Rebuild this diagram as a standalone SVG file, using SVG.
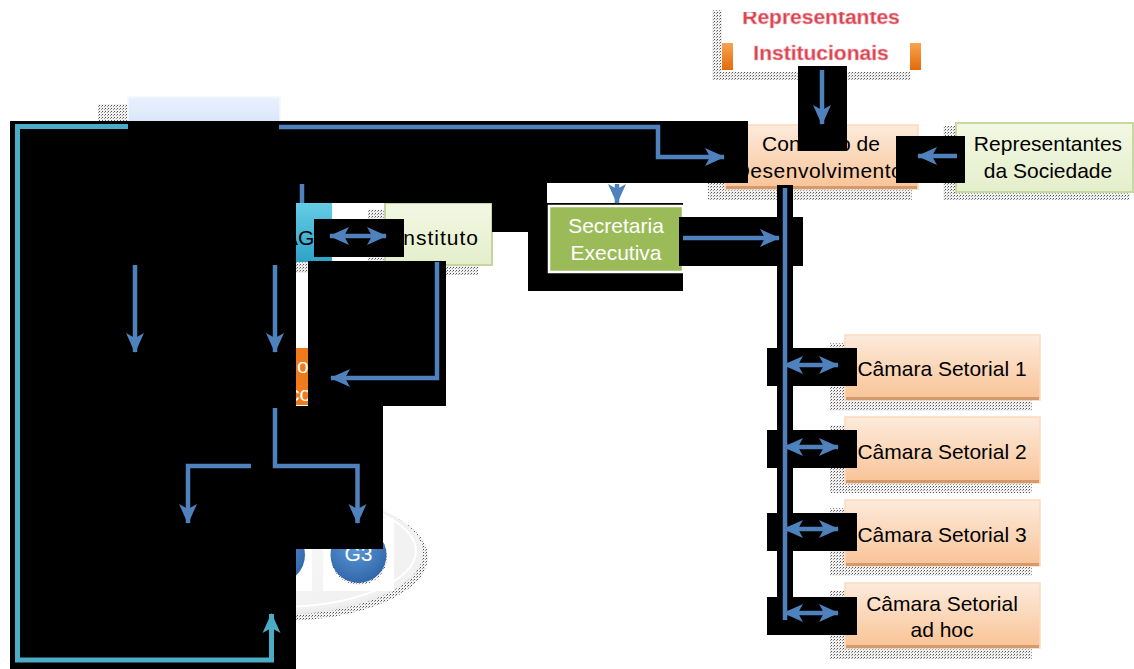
<svg xmlns="http://www.w3.org/2000/svg" width="1134" height="669" viewBox="0 0 1134 669">
<defs>
<style>
.blk{fill:#000}
.conn{fill:none;stroke:#4f81bd;stroke-width:4.5}
.cy{fill:none;stroke:#4bacc6;stroke-width:5}
.t{font-family:"Liberation Sans",Arial,sans-serif;font-size:21px;fill:#000}
.tc{text-anchor:middle}
.tw{fill:#fff}
.sh{fill:url(#dots)}
.peach{fill:url(#gPeach);stroke:#fcd9bd;stroke-width:1.5}
.pbot{fill:#d39a6e}
.green{fill:url(#gGreen);stroke:#c6d99f;stroke-width:2}
.red{font-weight:bold;fill:#d8424f;stroke:#f3a9b0;stroke-width:0.6}
</style>
<pattern id="dots" width="3" height="3" patternUnits="userSpaceOnUse">
<rect width="3" height="3" fill="#f0f0f0"/>
<rect width="1" height="1" fill="#555"/>
<rect x="2" y="1" width="1" height="1" fill="#999"/>
</pattern>
<linearGradient id="gPeach" x1="0" y1="0" x2="0" y2="1">
<stop offset="0" stop-color="#fdebdc"/>
<stop offset="1" stop-color="#f9c396"/>
</linearGradient>
<linearGradient id="gGreen" x1="0" y1="0" x2="0" y2="1">
<stop offset="0" stop-color="#f3f8e3"/>
<stop offset="1" stop-color="#e4eecb"/>
</linearGradient>
<linearGradient id="gCyan" x1="0" y1="0" x2="0" y2="1">
<stop offset="0" stop-color="#66cce6"/>
<stop offset="1" stop-color="#2ea3c6"/>
</linearGradient>
<linearGradient id="gLblue" x1="0" y1="0" x2="0" y2="1">
<stop offset="0" stop-color="#eaf1fd"/>
<stop offset="1" stop-color="#cfe0f8"/>
</linearGradient>
<linearGradient id="gOrange" x1="0" y1="0" x2="0" y2="1">
<stop offset="0" stop-color="#f9a350"/>
<stop offset="1" stop-color="#e26b0a"/>
</linearGradient>
<radialGradient id="gBall" cx="0.45" cy="0.35" r="0.7">
<stop offset="0" stop-color="#5e9ad6"/>
<stop offset="1" stop-color="#2d63a8"/>
</radialGradient>
<radialGradient id="gEll" cx="0.5" cy="0.45" r="0.6">
<stop offset="0" stop-color="#f8f8f8"/>
<stop offset="0.85" stop-color="#f1f1f1"/>
<stop offset="1" stop-color="#dedede"/>
</radialGradient>
<clipPath id="clipTop"><rect x="700" y="12" width="250" height="60"/></clipPath>
<marker id="ah" viewBox="0 0 20 20" refX="19" refY="10" markerWidth="20" markerHeight="20" markerUnits="userSpaceOnUse" orient="auto-start-reverse">
<path d="M0,1 L20,10 L0,19 L5,10 Z" fill="#4f81bd"/>
</marker>
<marker id="ahc" viewBox="0 0 20 20" refX="19" refY="10" markerWidth="20" markerHeight="20" markerUnits="userSpaceOnUse" orient="auto">
<path d="M0,1 L20,10 L0,19 L5,10 Z" fill="#4bacc6"/>
</marker>
</defs>

<rect width="1134" height="669" fill="#fff"/>

<!-- Representantes Institucionais -->
<g id="n-repinst">
<rect class="sh" x="712" y="10" width="198" height="70"/>
<rect x="722" y="4" width="199" height="68" fill="#fff"/>
<rect x="722" y="43" width="11" height="27" fill="url(#gOrange)"/>
<rect x="910" y="43" width="11" height="27" fill="url(#gOrange)"/>
<text class="t tc red" x="821" y="24" clip-path="url(#clipTop)">Representantes</text>
<text class="t tc red" x="821" y="60">Institucionais</text>
</g>

<!-- light blue box top-left -->
<g id="n-topleft">
<rect class="sh" x="98" y="104" width="160" height="30"/>
<rect x="128" y="97" width="152" height="40" fill="url(#gLblue)" stroke="#f4f8fe" stroke-width="1.5"/>
</g>

<!-- Conselho -->
<g id="n-conselho">
<rect class="sh" x="708" y="130" width="204" height="70"/>
<rect class="peach" x="725" y="125" width="193" height="64"/>
<rect class="pbot" x="726" y="186" width="191" height="3"/>
<text class="t tc" x="821" y="151">Conselho de</text>
<text class="t tc" x="819" y="178" style="letter-spacing:0.5px">Desenvolvimento</text>
</g>

<!-- Representantes da Sociedade -->
<g id="n-repsoc">
<rect class="sh" x="943" y="126" width="187" height="74"/>
<rect class="green" x="956" y="123" width="177" height="69"/>
<text class="t tc" x="1048" y="151">Representantes</text>
<text class="t tc" x="1048" y="178">da Sociedade</text>
</g>

<!-- Câmaras -->
<g id="n-cam1">
<rect class="sh" x="830" y="343" width="202" height="68"/>
<rect class="peach" x="845" y="335" width="195" height="65"/>
<rect class="pbot" x="846" y="397" width="193" height="3"/>
<text class="t tc" x="942" y="376">Câmara Setorial 1</text>
</g>
<g id="n-cam2">
<rect class="sh" x="830" y="425" width="202" height="68"/>
<rect class="peach" x="845" y="417" width="195" height="66"/>
<rect class="pbot" x="846" y="480" width="193" height="3"/>
<text class="t tc" x="942" y="459">Câmara Setorial 2</text>
</g>
<g id="n-cam3">
<rect class="sh" x="830" y="508" width="202" height="68"/>
<rect class="peach" x="845" y="500" width="195" height="66"/>
<rect class="pbot" x="846" y="563" width="193" height="3"/>
<text class="t tc" x="942" y="542">Câmara Setorial 3</text>
</g>
<g id="n-cam4">
<rect class="sh" x="830" y="591" width="202" height="68"/>
<rect class="peach" x="845" y="583" width="195" height="65"/>
<rect class="pbot" x="846" y="645" width="193" height="3"/>
<text class="t tc" x="942" y="611">Câmara Setorial</text>
<text class="t tc" x="942" y="637">ad hoc</text>
</g>

<!-- Secretaria -->
<rect class="blk" x="528" y="203" width="155" height="88"/>
<g id="n-secretaria">
<rect x="549" y="206" width="134" height="66" fill="#9bbb59" stroke="#fff" stroke-width="2.5"/>
<text class="t tc tw" x="616" y="233">Secretaria</text>
<text class="t tc tw" x="616" y="260">Executiva</text>
</g>

<!-- Instituto -->
<g id="n-instituto">
<rect class="sh" x="368" y="210" width="110" height="65"/>
<rect x="385" y="203" width="107" height="62" fill="url(#gGreen)" stroke="#c4d69c" stroke-width="2"/>
<text class="t" x="479" y="245" style="text-anchor:end;letter-spacing:1px">Instituto</text>
</g>

<!-- cyan G box -->
<g id="n-g">
<rect class="sh" x="280" y="215" width="45" height="58"/>
<rect x="240" y="203" width="92" height="59" fill="url(#gCyan)"/>
<text class="t" x="284" y="245">AG</text>
</g>

<!-- orange box -->
<g id="n-orange">
<rect x="230" y="348" width="100" height="57" fill="#f07b1d"/>
<text class="t tw" x="297" y="373">o</text>
<text class="t tw" x="289" y="401">co</text>
</g>

<!-- ellipse with groups -->
<g id="n-groups">
<ellipse cx="280" cy="557" rx="148" ry="64" class="sh"/>
<ellipse cx="277" cy="553" rx="146" ry="62" fill="url(#gEll)"/>
<ellipse cx="277" cy="551" rx="139" ry="56" fill="none" stroke="#fff" stroke-width="2"/>
<rect x="242" y="518" width="70" height="73" fill="#fff"/>
<rect x="323" y="518" width="71" height="73" fill="#fff"/>
<circle cx="277" cy="555" r="28" fill="url(#gBall)"/>
<circle cx="359" cy="557" r="28" class="sh"/>
<circle cx="358.5" cy="555" r="28" fill="url(#gBall)"/>
<text class="t tc tw" x="358.5" y="561">G3</text>
</g>

<!-- black overlays -->
<g id="black">
<rect class="blk" x="10" y="121" width="738" height="62"/>
<rect class="blk" x="10" y="183" width="537" height="20"/>
<rect class="blk" x="492" y="183" width="36" height="49"/>
<rect class="blk" x="10" y="121" width="286" height="548"/>
<rect class="blk" x="314" y="219" width="90" height="38"/>
<rect class="blk" x="308" y="261" width="138" height="145"/>
<rect class="blk" x="296" y="406" width="87" height="143"/>
<rect class="blk" x="679" y="217" width="124" height="49"/>
<rect class="blk" x="777" y="185" width="16" height="450"/>
<rect class="blk" x="767" y="348" width="90" height="38"/>
<rect class="blk" x="767" y="430" width="90" height="38"/>
<rect class="blk" x="767" y="513" width="90" height="38"/>
<rect class="blk" x="767" y="597" width="90" height="38"/>
<rect class="blk" x="798" y="66" width="49" height="85"/>
<rect class="blk" x="896" y="136" width="69" height="47"/>
</g>

<!-- connectors -->
<g id="connectors">
<path class="conn" d="M279,127 H658 V157 H724" marker-end="url(#ah)"/>
<path class="cy" d="M128,126.5 H17.5 V660 H271.5 V614" marker-end="url(#ahc)"/>
<path class="conn" d="M302,184 V203"/>
<path class="conn" d="M617,184 V203" marker-end="url(#ah)"/>
<path class="conn" d="M822,70 V124" marker-end="url(#ah)"/>
<path class="conn" d="M957,156 H918" marker-end="url(#ah)"/>
<path class="conn" d="M683,238 H779" marker-end="url(#ah)"/>
<path class="conn" d="M785,188 V620"/>
<path class="conn" d="M784,365 H838" marker-start="url(#ah)" marker-end="url(#ah)"/>
<path class="conn" d="M784,447 H838" marker-start="url(#ah)" marker-end="url(#ah)"/>
<path class="conn" d="M784,529 H838" marker-start="url(#ah)" marker-end="url(#ah)"/>
<path class="conn" d="M784,613 H838" marker-start="url(#ah)" marker-end="url(#ah)"/>
<path class="conn" d="M330,236 H386" marker-start="url(#ah)" marker-end="url(#ah)"/>
<path class="conn" d="M437,262 V378 H331" marker-end="url(#ah)"/>
<path class="conn" d="M135,265 V352" marker-end="url(#ah)"/>
<path class="conn" d="M275,265 V352" marker-end="url(#ah)"/>
<path class="conn" d="M275,408 V466 H357.5 V523" marker-end="url(#ah)"/>
<path class="conn" d="M251,466 H188 V523" marker-end="url(#ah)"/>
</g>
</svg>
